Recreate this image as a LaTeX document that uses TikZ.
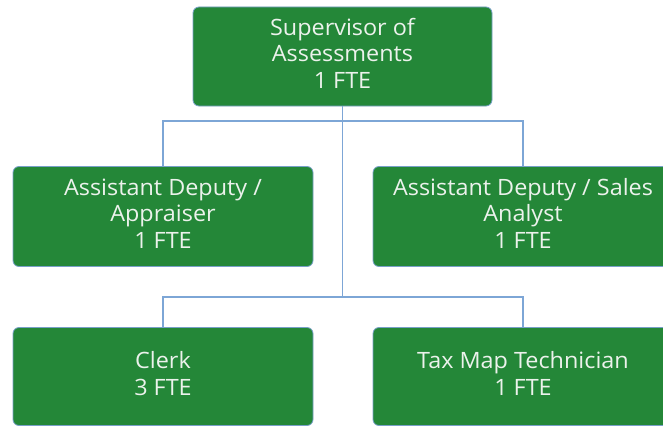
\documentclass[tikz,border=0pt]{standalone}
\usepackage{fontspec}
\setmainfont{Open Sans}[FakeStretch=1.04]
\definecolor{boxgreen}{RGB}{36,135,56}
\definecolor{boxedge}{RGB}{120,160,200}
\definecolor{linkblue}{RGB}{125,166,214}
\definecolor{labeltext}{RGB}{236,242,236}
% multi-line label, lifted a little above the box centre
\newcommand\boxtext[1]{\raisebox{4pt}{\begin{tabular}{@{}c@{}}#1\end{tabular}}}
\tikzset{
  orgbox/.style={draw=boxedge, line width=0.8pt, fill=boxgreen, rounded corners=6pt,
    minimum width=300pt, minimum height=100pt, align=center, text=labeltext,
    font=\fontsize{22.5pt}{26.5pt}\selectfont, inner sep=0pt},
  link/.style={draw=linkblue, line width=1.4pt}
}
\begin{document}
\begin{tikzpicture}[x=1pt,y=-1pt]
\useasboundingbox (0,0) rectangle (663,428);
\clip (0,0) rectangle (663,428);
\fill[white] (0,0) rectangle (663,428);

\node[orgbox, minimum width=299pt, minimum height=99pt] (top) at (342.5,56.5)
  {\boxtext{Supervisor of\\Assessments\\1 FTE}};
\node[orgbox] (ml) at (163,216.5) {\boxtext{Assistant Deputy /\\Appraiser\\1 FTE}};
\node[orgbox] (mr) at (523,216.5) {\boxtext{Assistant Deputy / Sales\\Analyst\\1 FTE}};
\node[orgbox, minimum height=98pt] (bl) at (163,376.5) {\boxtext{Clerk\\3 FTE}};
\node[orgbox, minimum height=98pt] (br) at (523,376.5) {\boxtext{Tax Map Technician\\1 FTE}};

\coordinate (busA) at (342.5,121);
\coordinate (busB) at (342.5,297);

\draw[link] (top.south) -- (busB);
\draw[link] (ml.north) -- (ml.north |- busA) -- (mr.north |- busA) -- (mr.north);
\draw[link] (bl.north) -- (bl.north |- busB) -- (br.north |- busB) -- (br.north);
\end{tikzpicture}
\end{document}
